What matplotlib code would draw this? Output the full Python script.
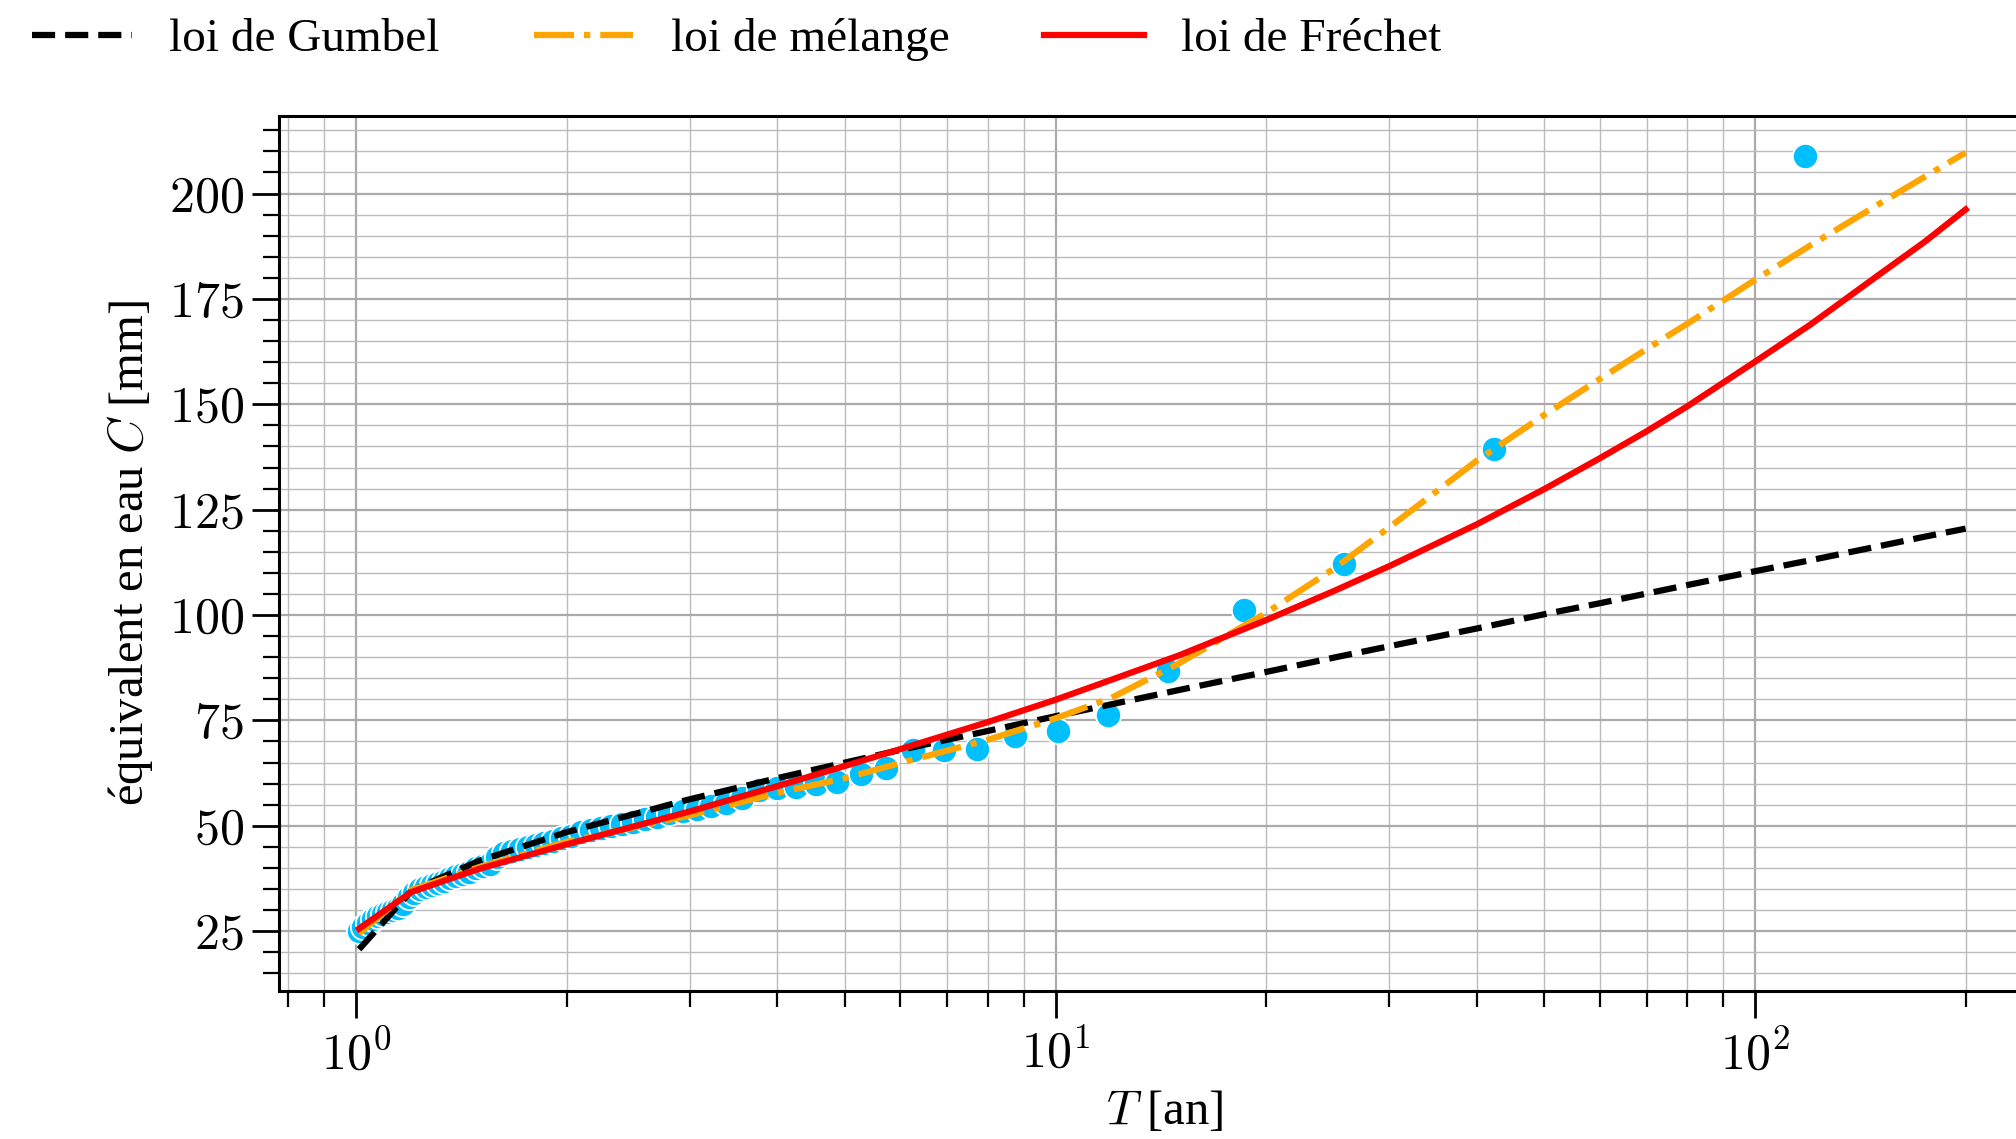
import math
import matplotlib
matplotlib.use("Agg")
import matplotlib.pyplot as plt
from matplotlib.ticker import MultipleLocator, FuncFormatter, LogLocator

plt.rcParams['font.family'] = 'serif'
plt.rcParams['font.serif'] = ['Liberation Serif', 'DejaVu Serif']
plt.rcParams['mathtext.fontset'] = 'cm'
plt.rcParams['font.size'] = 35

# observed annual maxima (return period T, snow water equivalent C)
T_obs = [1.0085, 1.024, 1.040, 1.057, 1.074, 1.092, 1.110, 1.129, 1.149, 1.169,
         1.190, 1.212, 1.235, 1.258, 1.282, 1.308, 1.334, 1.362, 1.390, 1.420,
         1.451, 1.484, 1.518, 1.554, 1.591, 1.630, 1.671, 1.715, 1.760, 1.809,
         1.859, 1.913, 1.970, 2.031, 2.095, 2.164, 2.237, 2.315, 2.399, 2.489,
         2.587, 2.692, 2.806, 2.931, 3.067, 3.216, 3.380, 3.563, 3.765, 3.993,
         4.249, 4.541, 4.876, 5.264, 5.720, 6.261, 6.916, 7.724, 8.746, 10.08,
         11.89, 14.50, 18.57, 25.83, 42.38, 118.07]
C_obs = [25.0, 26.0, 27.0, 28.0, 28.5, 29.0, 29.5, 30.0, 30.5, 31.5,
         33.0, 34.0, 35.0, 35.5, 36.0, 36.5, 37.0, 37.5, 38.0, 38.5,
         39.0, 40.0, 40.5, 41.0, 42.5, 43.5, 44.0, 44.5, 45.0, 45.5,
         46.0, 46.5, 47.0, 47.5, 48.5, 49.0, 49.5, 50.0, 50.5, 51.0,
         51.5, 52.0, 53.0, 53.5, 54.0, 54.8, 55.5, 56.5, 58.5, 59.0,
         59.3, 60.0, 60.5, 62.4, 63.7, 68.0, 68.0, 68.2, 71.2, 72.6,
         76.3, 86.7, 101.2, 112.0, 139.4, 208.8]

# fitted laws, evaluated on a common set of return periods
T_fit = [1.01, 1.2, 1.5, 2, 3, 4, 5, 6, 8, 10, 12, 15, 20, 25, 30, 40, 50,
         60, 70, 80, 100, 120, 150, 175, 200]
C_gumbel = [20.7, 34.6, 41.7, 48.5, 56.3, 61.3, 65.0, 68.0, 72.5, 76.0, 78.8,
            82.2, 86.5, 89.9, 92.6, 96.8, 100.2, 102.8, 105.1, 107.1, 110.4,
            113.0, 116.3, 118.6, 120.5]
C_melange = [24.5, 34.8, 40.2, 46.2, 52.5, 57.8, 61.3, 64.9, 70.4, 75.5, 80.3,
             88.5, 100.5, 111.0, 120.8, 136.6, 147.5, 156.0, 163.1, 169.1,
             179.5, 187.7, 197.4, 204.0, 209.7]
C_frechet = [25.6, 34.3, 39.8, 45.6, 53.4, 59.4, 64.2, 68.2, 74.6, 79.9, 84.6,
             90.4, 98.8, 105.7, 111.6, 121.5, 129.9, 137.2, 143.6, 149.5,
             160.1, 168.9, 180.6, 188.6, 196.2]

fig = plt.figure(figsize=(20.16, 11.39), dpi=100)
ax = fig.add_axes([0.1384, 0.1299, 0.879, 0.7683])

ax.scatter(T_obs, C_obs, s=330, color='deepskyblue', edgecolors='white',
           linewidths=1.3, zorder=3)
ax.plot(T_fit, C_gumbel, color='black', ls='--', lw=4.5,
        label='loi de Gumbel', zorder=4)
ax.plot(T_fit, C_melange, color='orange', ls='-.', lw=4.5,
        label='loi de mélange', zorder=4)
ax.plot(T_fit, C_frechet, color='red', lw=4.5, label='loi de Fréchet', zorder=4)

ax.set_xscale('log')
ax.set_xlim(0.776, 265)
ax.set_ylim(10.8, 218.4)

ax.xaxis.set_major_locator(LogLocator(base=10))
ax.xaxis.set_minor_locator(LogLocator(base=10, subs=range(2, 10)))
ax.xaxis.set_major_formatter(
    FuncFormatter(lambda v, p: r'$\mathrm{10^{%d}}$' % round(math.log10(v))))
ax.xaxis.set_minor_formatter(FuncFormatter(lambda v, p: ''))
ax.yaxis.set_major_locator(MultipleLocator(25))
ax.yaxis.set_minor_locator(MultipleLocator(5))
ax.yaxis.set_major_formatter(FuncFormatter(lambda v, p: r'$\mathrm{%d}$' % v))

ax.grid(which='major', color='#aaaaaa', lw=1.6)
ax.grid(which='minor', color='#bbbbbb', lw=1.0)
ax.set_axisbelow(True)

for side in ['left', 'bottom', 'top']:
    ax.spines[side].set_linewidth(2.2)
ax.spines['right'].set_visible(False)
ax.tick_params(which='major', direction='out', length=19.5, width=2.0,
               labelsize=36)
ax.tick_params(which='minor', direction='out', length=11.5, width=1.6)
ax.tick_params(axis='y', which='major', pad=6)
ax.tick_params(axis='x', which='major', pad=9)

ax.set_xlabel('$T$ [an]', labelpad=6)
ax.set_ylabel('équivalent en eau $C$ [mm]', labelpad=10)

fig.legend(loc='upper left', bbox_to_anchor=(0.002, 1.009), ncol=3,
           frameon=False, fontsize=34, handlelength=2.1, handletextpad=0.8,
           columnspacing=2.0, borderaxespad=0.2)

fig.savefig('out.png', dpi=100)
